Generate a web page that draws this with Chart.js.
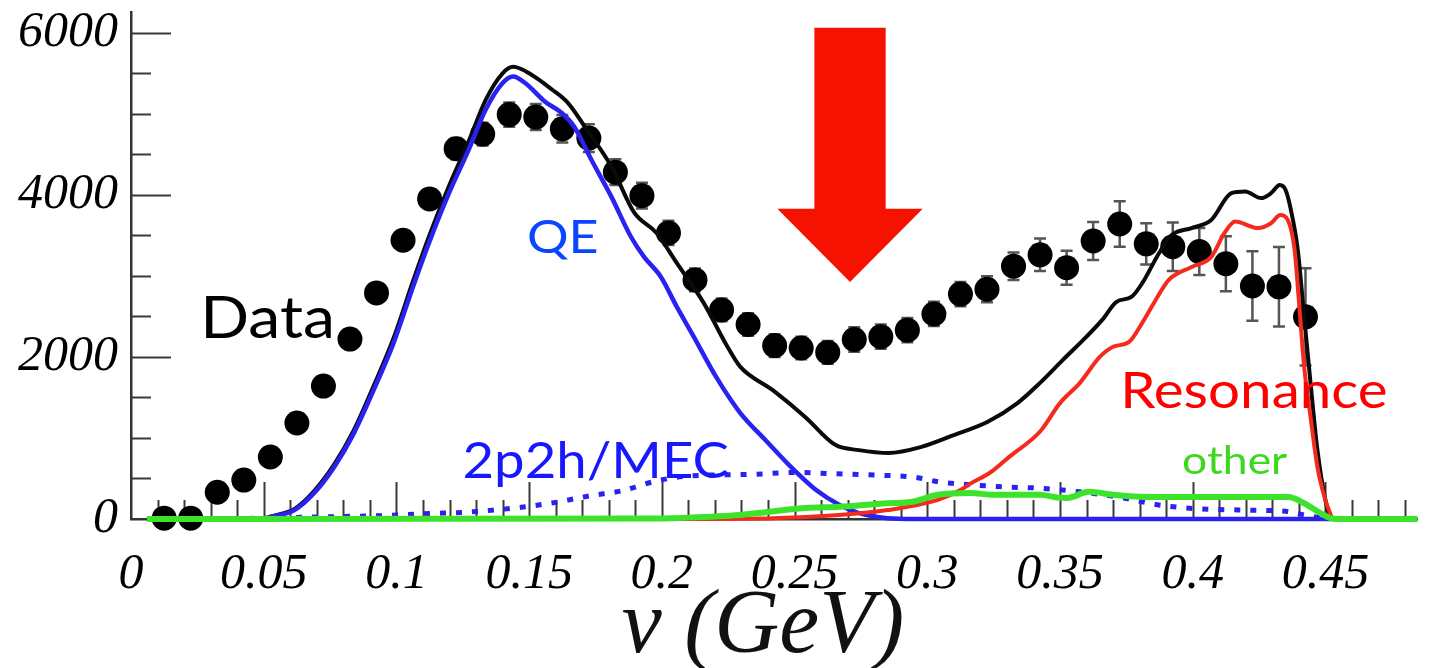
<!DOCTYPE html>
<html>
<head>
<meta charset="utf-8">
<title>nu distribution</title>
<script src="https://cdn.jsdelivr.net/npm/chart.js@4.4.0/dist/chart.umd.min.js"></script>
<style>
  html, body { margin: 0; padding: 0; background: #fff; }
  #wrap { width: 1430px; height: 668px; overflow: hidden; }
</style>
</head>
<body>
<div id="wrap"><canvas id="nuChart" width="1430" height="668"></canvas></div>
<script>
// ---- data ----

// measured points (bin centre in GeV, events, error)
const dataNu = [0.0125, 0.0225, 0.0325, 0.0425, 0.0525, 0.0625, 0.0725, 0.0825, 0.0925, 0.1025,
  0.1125, 0.1225, 0.1325, 0.1425, 0.1525, 0.1625, 0.1725, 0.1825, 0.1925, 0.2025,
  0.2125, 0.2225, 0.2325, 0.2425, 0.2525, 0.2625, 0.2725, 0.2825, 0.2925, 0.3025,
  0.3125, 0.3225, 0.3325, 0.3425, 0.3525, 0.3625, 0.3725, 0.3825, 0.3925, 0.4025,
  0.4125, 0.4225, 0.4325, 0.4425];
const dataCounts = [10, 10, 330, 480, 765, 1185, 1640, 2220, 2790, 3440,
  3950, 4570, 4750, 4990, 4960, 4815, 4700, 4280, 3990, 3530,
  2950, 2580, 2400, 2140, 2110, 2055, 2215, 2250, 2330, 2530,
  2775, 2835, 3120, 3260, 3100, 3430, 3640, 3395, 3360, 3300,
  3150, 2875, 2865, 2495];
const dataErr = [20, 20, 40, 50, 60, 70, 80, 90, 100, 110,
  120, 130, 140, 150, 160, 170, 170, 160, 160, 150,
  140, 140, 140, 140, 140, 140, 150, 150, 150, 150,
  150, 160, 170, 200, 210, 235, 280, 255, 300, 290,
  340, 430, 490, 600];

// total prediction (black)
const totalNu = [0.006, 0.05, 0.0526, 0.0616, 0.069, 0.0765, 0.084, 0.0914, 0.0989, 0.1063,
  0.1123, 0.1198, 0.1272, 0.1336, 0.140, 0.144, 0.151, 0.1586, 0.1646, 0.171,
  0.181, 0.1896, 0.198, 0.2056, 0.2157, 0.2243, 0.2295, 0.2418, 0.254, 0.2653,
  0.2743, 0.2854, 0.2978, 0.31, 0.3228, 0.334, 0.3425, 0.351, 0.360, 0.366,
  0.3713, 0.3769, 0.381, 0.3873, 0.392, 0.3996, 0.407, 0.4146, 0.4198, 0.4258,
  0.4295, 0.4328, 0.435, 0.437, 0.4396, 0.442, 0.4444, 0.447, 0.450, 0.4526, 0.46];
const totalVal = [0, 0, 30, 125, 345, 670, 1100, 1640, 2230, 2940,
  3490, 4110, 4660, 5170, 5500, 5580, 5480, 5300, 5135, 4840,
  4350, 3780, 3530, 3160, 2670, 2150, 1880, 1590, 1260, 915,
  850, 815, 890, 1035, 1200, 1430, 1680, 1960, 2250, 2460,
  2680, 2740, 2910, 3280, 3500, 3590, 3690, 4020, 4040, 3960,
  4020, 4120, 4060, 3815, 3320, 2495, 1680, 850, 235, 0, 0];

// QE (blue solid)
const qeNu = [0.006, 0.05, 0.0526, 0.0616, 0.069, 0.0765, 0.084, 0.0914, 0.0989, 0.1063,
  0.1123, 0.1198, 0.1272, 0.1336, 0.140, 0.144, 0.1485, 0.156, 0.1623, 0.167,
  0.1735, 0.181, 0.1884, 0.1933, 0.1996, 0.2056, 0.212, 0.2205, 0.2295, 0.239,
  0.249, 0.258, 0.2668, 0.274, 0.285, 0.295, 0.46];
const qeVal = [0, 0, 25, 110, 320, 640, 1060, 1590, 2170, 2870,
  3410, 4020, 4555, 5050, 5380, 5460, 5380, 5150, 5010, 4840,
  4430, 3975, 3480, 3235, 2990, 2620, 2250, 1750, 1310, 975,
  630, 360, 175, 75, 10, 0, 0];

// 2p2h/MEC (blue dotted)
const mecNu = [0.02, 0.05, 0.07, 0.098, 0.11, 0.127, 0.147, 0.16, 0.173, 0.185,
  0.198, 0.21, 0.235, 0.25, 0.264, 0.278, 0.2955, 0.305, 0.3175, 0.33,
  0.3425, 0.3575, 0.374, 0.386, 0.40, 0.42, 0.435, 0.442, 0.45];
const mecVal = [0, 10, 25, 45, 65, 85, 145, 205, 287, 348,
  470, 530, 552, 575, 560, 545, 513, 455, 420, 395,
  380, 335, 260, 180, 130, 110, 95, 50, 0];

// Resonance (red)
const resNu = [0.20, 0.2418, 0.2668, 0.285, 0.304, 0.3127, 0.3164, 0.324, 0.331, 0.3425,
  0.35, 0.3575, 0.365, 0.37, 0.376, 0.381, 0.386, 0.391, 0.3996, 0.407,
  0.412, 0.416, 0.4246, 0.4295, 0.433, 0.4358, 0.4384, 0.440, 0.442, 0.4444,
  0.447, 0.450, 0.4526];
const resVal = [0, 10, 50, 110, 235, 360, 440, 580, 770, 1080,
  1430, 1680, 2000, 2125, 2185, 2420, 2700, 2950, 3110, 3235,
  3530, 3670, 3590, 3650, 3750, 3690, 3320, 2700, 1880, 1260,
  640, 235, 0];

// other (green)
const otherNu = [0.006, 0.2, 0.2045, 0.2295, 0.254, 0.2668, 0.285, 0.294, 0.304, 0.3164,
  0.324, 0.3425, 0.349, 0.3526, 0.361, 0.37, 0.38, 0.3985, 0.42, 0.436,
  0.442, 0.448, 0.452, 0.456, 0.4847];
const otherVal = [0, 5, 10, 50, 135, 150, 195, 210, 300, 320,
  300, 300, 265, 260, 335, 300, 275, 270, 270, 270,
  195, 75, 10, 0, 0];

// tick labels
const xTickValues = [0, 0.05, 0.1, 0.15, 0.2, 0.25, 0.3, 0.35, 0.4, 0.45];
const yTickValues = [0, 2000, 4000, 6000];

// ---- helpers ----
function xy(xs, ys) {
  return xs.map((x, i) => ({ x: x, y: ys[i] }));
}

const BLUE = '#2a22f0';
const serif = 'Liberation Serif';

// minor/major ticks pointing into the plot, plus error bars
const axisDecor = {
  id: 'axisDecor',
  beforeDatasetsDraw(chart) {
    const { ctx, chartArea: a, scales: { x, y } } = chart;
    ctx.save();
    ctx.strokeStyle = '#3a3a3a';
    ctx.lineWidth = 2;
    ctx.beginPath();
    for (let i = 1; i <= 48; i++) {
      const px = Math.round(x.getPixelForValue(i / 100)) + 0.5;
      const len = i % 5 === 0 ? 37 : 19;
      ctx.moveTo(px, a.bottom);
      ctx.lineTo(px, a.bottom - len);
    }
    for (let v = 500; v <= 6000; v += 500) {
      const py = Math.round(y.getPixelForValue(v)) + 0.5;
      const len = v % 2000 === 0 ? 40 : 20;
      ctx.moveTo(a.left, py);
      ctx.lineTo(a.left + len, py);
    }
    ctx.stroke();

    // error bars on the data points
    ctx.strokeStyle = '#555';
    ctx.lineWidth = 2.5;
    ctx.beginPath();
    dataNu.forEach((nu, i) => {
      const px = x.getPixelForValue(nu);
      const lo = y.getPixelForValue(dataCounts[i] - dataErr[i]);
      const hi = y.getPixelForValue(dataCounts[i] + dataErr[i]);
      ctx.moveTo(px, lo); ctx.lineTo(px, hi);
      ctx.moveTo(px - 6, lo); ctx.lineTo(px + 6, lo);
      ctx.moveTo(px - 6, hi); ctx.lineTo(px + 6, hi);
    });
    ctx.stroke();
    ctx.restore();
  }
};

// red arrow, the curve labels and the axis title
const annotations = {
  id: 'annotations',
  afterDatasetsDraw(chart) {
    const { ctx, chartArea: a, scales: { x, y } } = chart;
    ctx.save();

    // arrow pointing at the dip
    const cx = x.getPixelForValue(0.2709);
    const shaftHalf = x.getPixelForValue(0.01343) - x.getPixelForValue(0);
    const headHalf = x.getPixelForValue(0.0274) - x.getPixelForValue(0);
    const top = y.getPixelForValue(6062);
    const neck = y.getPixelForValue(3827);
    const tip = y.getPixelForValue(2926);
    ctx.fillStyle = '#f51200';
    ctx.beginPath();
    ctx.moveTo(cx - shaftHalf, top);
    ctx.lineTo(cx + shaftHalf, top);
    ctx.lineTo(cx + shaftHalf, neck);
    ctx.lineTo(cx + headHalf, neck);
    ctx.lineTo(cx, tip);
    ctx.lineTo(cx - headHalf, neck);
    ctx.lineTo(cx - shaftHalf, neck);
    ctx.closePath();
    ctx.fill();

    // curve labels (slightly widened, like the original Calibri text)
    const labels = [
      { text: 'Data', nu: 0.0261, val: 2235, size: 59, sx: 1.09, color: '#000' },
      { text: 'QE', nu: 0.1492, val: 3284, size: 46, sx: 1.13, color: '#0a46ff' },
      { text: '2p2h/MEC', nu: 0.1249, val: 506, size: 50, sx: 1.09, color: '#1818ff' },
      { text: 'Resonance', nu: 0.3727, val: 1370, size: 50, sx: 1.13, color: '#ff0000' },
      { text: 'other', nu: 0.396, val: 556, size: 38, sx: 1.17, color: '#3cd81e' }
    ];
    ctx.textAlign = 'left';
    ctx.textBaseline = 'alphabetic';
    labels.forEach(l => {
      ctx.save();
      ctx.translate(x.getPixelForValue(l.nu), y.getPixelForValue(l.val));
      ctx.scale(l.sx, 1);
      ctx.font = l.size + 'px Lato';
      ctx.fillStyle = l.color;
      ctx.fillText(l.text, 0, 0);
      ctx.restore();
    });

    // axis title
    ctx.font = 'italic 90px "' + serif + '"';
    ctx.fillStyle = '#111';
    ctx.textAlign = 'center';
    ctx.fillText('ν (GeV)', a.left + 632, a.bottom + 133);
    ctx.restore();
  }
};

const curve = (data, color, width, extra) => Object.assign({
  type: 'line',
  data: data,
  borderColor: color,
  borderWidth: width,
  pointRadius: 0,
  fill: false,
  cubicInterpolationMode: 'monotone',
  clip: false
}, extra || {});

new Chart(document.getElementById('nuChart'), {
  type: 'scatter',
  data: {
    datasets: [
      curve(xy(otherNu, otherVal), '#3de32b', 6),
      curve(xy(resNu, resVal), '#f42a1c', 4),
      curve(xy(mecNu, mecVal), BLUE, 5, { borderDash: [6, 10] }),
      curve(xy(qeNu, qeVal), BLUE, 4.5),
      curve(xy(totalNu, totalVal), '#0a0a0a', 4),
      {
        type: 'scatter',
        label: 'Data',
        data: xy(dataNu, dataCounts),
        pointRadius: 12.5,
        pointBackgroundColor: '#000',
        pointBorderWidth: 0,
        clip: false
      }
    ]
  },
  options: {
    responsive: false,
    devicePixelRatio: 1,
    animation: false,
    layout: { padding: { top: 12, right: 0, left: 0, bottom: 0 } },
    plugins: { legend: { display: false }, tooltip: { enabled: false } },
    scales: {
      x: {
        type: 'linear',
        min: 0,
        max: 0.4847,
        grid: { display: false, drawTicks: false },
        border: { display: true, color: '#333', width: 2.5 },
        afterBuildTicks: s => { s.ticks = xTickValues.map(v => ({ value: v })); },
        afterFit: s => { s.height = 149; s.paddingLeft = 0; s.paddingRight = 0; },
        ticks: {
          color: '#000',
          padding: 26,
          maxRotation: 0,
          font: { family: serif, size: 50, style: 'italic' },
          callback: v => String(Math.round(v * 100) / 100)
        }
      },
      y: {
        type: 'linear',
        min: 0,
        max: 6250,
        grid: { display: false, drawTicks: false },
        border: { display: true, color: '#333', width: 2.5 },
        afterBuildTicks: s => { s.ticks = yTickValues.map(v => ({ value: v })); },
        afterFit: s => { s.width = 131; s.paddingTop = 0; s.paddingBottom = 0; },
        ticks: {
          color: '#000',
          padding: 13,
          font: { family: serif, size: 50, style: 'italic' },
          callback: v => String(v)
        }
      }
    }
  },
  plugins: [axisDecor, annotations]
});
</script>
</body>
</html>
